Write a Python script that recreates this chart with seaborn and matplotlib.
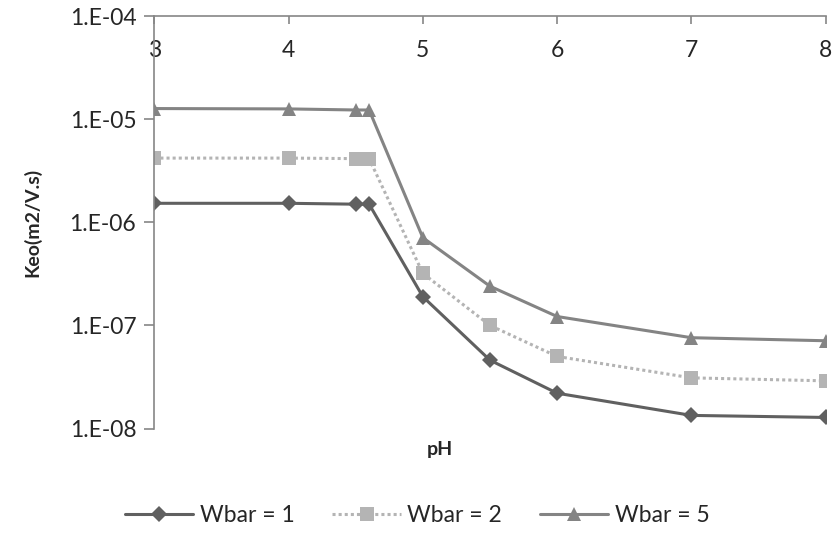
import numpy as np
import pandas as pd
import matplotlib
matplotlib.use("Agg")
import matplotlib.pyplot as plt
import matplotlib.ticker as mticker
import seaborn as sns

ph = [3, 4, 4.5, 4.6, 5, 5.5, 6, 7, 8]
keo_w1 = [1.53e-6, 1.53e-6, 1.50e-6, 1.50e-6, 1.9e-7, 4.6e-8, 2.2e-8, 1.34e-8, 1.28e-8]
keo_w2 = [4.2e-6, 4.2e-6, 4.15e-6, 4.15e-6, 3.2e-7, 1.0e-7, 5.0e-8, 3.1e-8, 2.9e-8]
keo_w5 = [1.27e-5, 1.26e-5, 1.23e-5, 1.23e-5, 7.1e-7, 2.4e-7, 1.22e-7, 7.6e-8, 7.1e-8]
labels = ["Wbar = 1", "Wbar = 2", "Wbar = 5"]

df = pd.DataFrame({
    "pH": ph * 3,
    "Keo": keo_w1 + keo_w2 + keo_w5,
    "series": [labels[0]] * len(ph) + [labels[1]] * len(ph) + [labels[2]] * len(ph),
})

sns.set_style("white")
plt.rcParams["font.family"] = ["Lato", "DejaVu Sans"]

palette = {labels[0]: "#606060", labels[1]: "#b4b4b4", labels[2]: "#848484"}
markers = {labels[0]: "D", labels[1]: "s", labels[2]: "^"}
dashes = {labels[0]: "", labels[1]: (1, 1), labels[2]: ""}

fig, ax = plt.subplots(figsize=(8.34, 5.39), dpi=100)
fig.subplots_adjust(left=0.185, right=0.99, top=0.97, bottom=0.205)

sns.lineplot(data=df, x="pH", y="Keo", hue="series", style="series",
             palette=palette, markers=markers, dashes=dashes,
             linewidth=2.2, markersize=10, markeredgewidth=0, ax=ax)
# diamonds are a bit smaller in the original
ax.lines[0].set_markersize(8)

ax.set_yscale("log")
ax.set_ylim(1e-8, 1e-4)
ax.set_xlim(3, 8)
ax.yaxis.set_major_formatter(mticker.FuncFormatter(
    lambda v, p: "1.E-%02d" % round(-np.log10(v))))
ax.yaxis.set_minor_locator(mticker.NullLocator())
ax.set_xticks([3, 4, 5, 6, 7, 8])

for s in ["right", "bottom"]:
    ax.spines[s].set_visible(False)
for s in ["left", "top"]:
    ax.spines[s].set_color("#868686")
    ax.spines[s].set_linewidth(1.2)

ax.xaxis.tick_top()
ax.tick_params(axis="x", direction="in", length=6, width=1.2, color="#868686",
               pad=-32, labelsize=16.5)
ax.tick_params(axis="y", direction="out", length=7, width=1.2, color="#868686",
               left=True, labelsize=16.5, pad=6)

ax.set_xlabel("pH", fontsize=14, fontweight="bold")
ax.xaxis.set_label_position("bottom")
ax.xaxis.set_label_coords(0.425, -0.03)
ax.set_ylabel("Keo(m2/V.s)", fontsize=14, fontweight="bold", labelpad=20)

handles, labs = ax.get_legend_handles_labels()
ax.get_legend().remove()
handles[0].set_markersize(8)
fig.legend(handles, labs, loc="lower center", bbox_to_anchor=(0.5, -0.015), ncol=3,
           frameon=False, fontsize=16.5, handlelength=3.0, handletextpad=0.27,
           columnspacing=1.65)

fig.savefig("out.png", dpi=100)
